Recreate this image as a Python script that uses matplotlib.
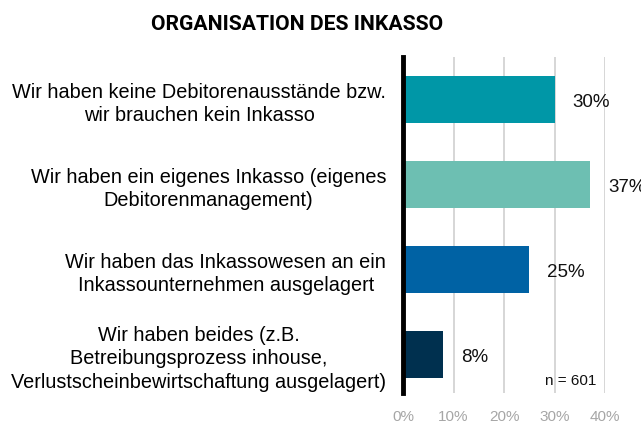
import matplotlib
matplotlib.use("Agg")
import matplotlib.pyplot as plt
from matplotlib.ticker import FuncFormatter

plt.rcParams['font.family'] = ['Liberation Sans', 'DejaVu Sans']

categories = [
    "Wir haben keine Debitorenausstände bzw.\nwir brauchen kein Inkasso",
    "Wir haben ein eigenes Inkasso (eigenes\nDebitorenmanagement)",
    "Wir haben das Inkassowesen an ein\nInkassounternehmen ausgelagert",
    "Wir haben beides (z.B.\nBetreibungsprozess inhouse,\nVerlustscheinbewirtschaftung ausgelagert)",
]
values = [30, 37, 25, 8]
colors = ["#0097A7", "#6DBFB2", "#0062A4", "#00304F"]
x_ticks = [0, 10, 20, 30, 40]
title = "ORGANISATION DES INKASSO"
sample_note = "n = 601"

fig = plt.figure(figsize=(6.41, 4.23), dpi=100)
ax = fig.add_axes([403 / 641, 30 / 423, 202 / 641, 336 / 423])

y = list(range(len(categories)))
ax.barh(y, values, height=0.55, color=colors, zorder=3)
ax.set_ylim(3.45, -0.50)
ax.set_xlim(0, 40)

for yi, v in zip(y, values):
    ax.annotate(f"{v}%", xy=(v, yi), xytext=(13, -2), textcoords="offset points",
                ha="left", va="center", fontsize=13.5, color="#111111",
                annotation_clip=False)

ax.set_yticks(y)
ax.set_yticklabels(categories, fontsize=14.3, multialignment="center",
                   linespacing=1.3)
ax.tick_params(axis="y", length=0, pad=12)

ax.set_xticks(x_ticks)
ax.xaxis.set_major_formatter(FuncFormatter(lambda v, p: f"{v:.0f}%"))
ax.tick_params(axis="x", length=0, labelsize=11, colors="#A6A6A6", pad=12)
ax.grid(axis="x", color="#D0D0D0", linewidth=1.2, zorder=0)

for s in ["top", "right", "bottom"]:
    ax.spines[s].set_visible(False)
ax.spines["left"].set_linewidth(3.5)
ax.spines["left"].set_color("black")
ax.spines["left"].set_zorder(4)

ax.text(0.83, 0.035, sample_note, transform=ax.transAxes, fontsize=11,
        ha="center", va="center", color="#111111")

fig.text(297 / 641, 1 - 24 / 423, title, fontsize=15.2, fontweight="bold",
         ha="center", va="center", family=['Roboto', 'Liberation Sans'])

fig.savefig("out.png", dpi=100)
